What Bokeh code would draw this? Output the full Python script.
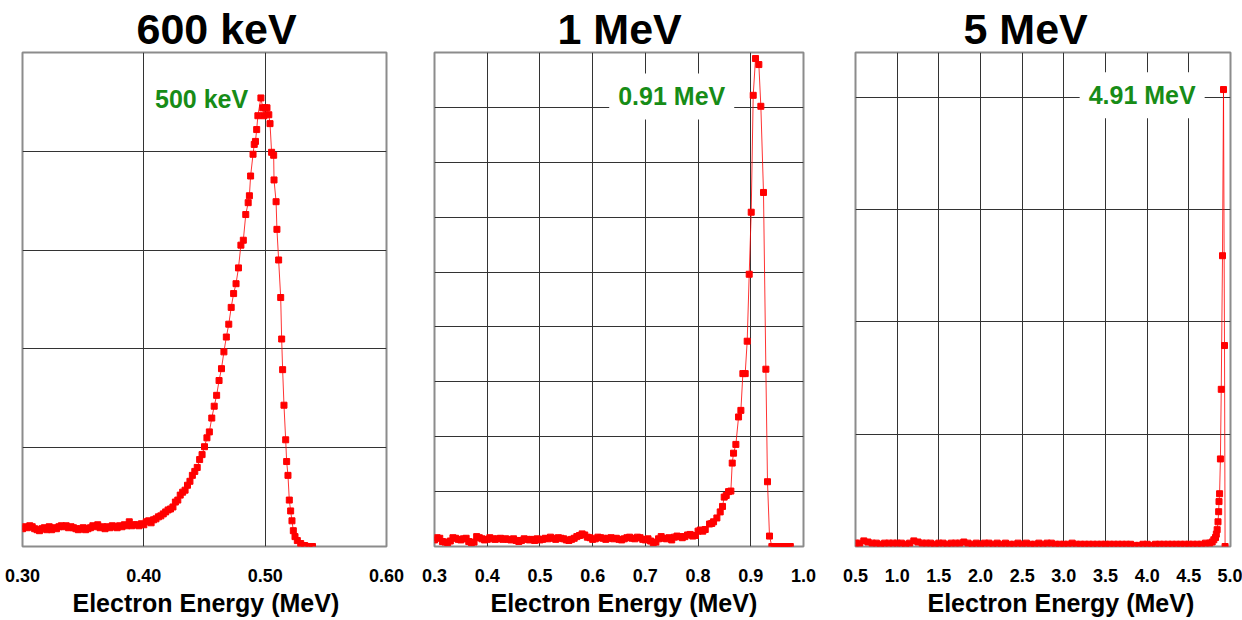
from bokeh.plotting import figure
from bokeh.models import FixedTicker, Label, Range1d, PrintfTickFormatter, Title
from bokeh.layouts import row
from bokeh.embed import file_html
from bokeh.resources import INLINE

FONT = "Liberation Sans"
RED = "#ff0000"
GREEN = "#178c17"

titles = ["600 keV", "1 MeV", "5 MeV"]
peak_labels = ["500 keV", "0.91 MeV", "4.91 MeV"]
x_label = "Electron Energy (MeV)"

x1_ticks = [0.30, 0.40, 0.50, 0.60]
x2_ticks = [0.3, 0.4, 0.5, 0.6, 0.7, 0.8, 0.9, 1.0]
x3_ticks = [0.5, 1.0, 1.5, 2.0, 2.5, 3.0, 3.5, 4.0, 4.5, 5.0]

# ---------------- 600 keV spectrum ----------------
e1 = [0.300, 0.302, 0.304, 0.306, 0.308, 0.310, 0.312, 0.314, 0.316, 0.318,
      0.320, 0.322, 0.324, 0.326, 0.328, 0.330, 0.332, 0.334, 0.336, 0.338,
      0.340, 0.342, 0.344, 0.346, 0.348, 0.350, 0.352, 0.354, 0.356, 0.358,
      0.360, 0.362, 0.364, 0.366, 0.368, 0.370, 0.372, 0.374, 0.376, 0.378,
      0.380, 0.382, 0.384, 0.386, 0.388, 0.390, 0.392, 0.394, 0.396, 0.398,
      0.400, 0.402, 0.404, 0.406, 0.408, 0.410, 0.412, 0.414, 0.416, 0.418,
      0.420, 0.422, 0.424, 0.426, 0.428, 0.430, 0.432, 0.434, 0.436, 0.438,
      0.440, 0.442, 0.444, 0.446, 0.448, 0.450, 0.452, 0.454, 0.456, 0.458,
      0.460, 0.462, 0.464, 0.466, 0.468, 0.470, 0.472, 0.474, 0.476, 0.478,
      0.480, 0.482, 0.484, 0.486, 0.487, 0.488, 0.490, 0.491, 0.492, 0.493,
      0.494, 0.4965, 0.498, 0.499, 0.500, 0.5015, 0.503, 0.504, 0.5053, 0.507,
      0.5073, 0.509, 0.5097, 0.5111, 0.5128, 0.5136, 0.5144, 0.5155, 0.5169, 0.5177,
      0.5188, 0.5199, 0.5210, 0.5221, 0.5232, 0.5246, 0.5265, 0.5293, 0.5326, 0.5362,
      0.5390]
c1 = [0.18, 0.20, 0.19, 0.21, 0.20, 0.18, 0.17, 0.16, 0.18, 0.19,
      0.17, 0.20, 0.17, 0.19, 0.18, 0.20, 0.21, 0.20, 0.21, 0.19,
      0.20, 0.19, 0.18, 0.17, 0.18, 0.19, 0.17, 0.18, 0.19, 0.21,
      0.20, 0.22, 0.19, 0.20, 0.18, 0.20, 0.19, 0.21, 0.20, 0.19,
      0.21, 0.20, 0.22, 0.21, 0.25, 0.21, 0.22, 0.22, 0.21, 0.23,
      0.22, 0.25, 0.26, 0.24, 0.27, 0.28, 0.30, 0.31, 0.33, 0.35,
      0.37, 0.38, 0.40, 0.45, 0.47, 0.52, 0.55, 0.57, 0.62, 0.66,
      0.72, 0.76, 0.80, 0.88, 0.93, 1.01, 1.10, 1.16, 1.30, 1.42,
      1.53, 1.68, 1.80, 1.97, 2.12, 2.25, 2.42, 2.56, 2.66, 2.82,
      3.05, 3.10, 3.36, 3.48, 3.55, 3.75, 3.97, 4.07, 4.10, 4.22,
      4.36, 4.54, 4.44, 4.36, 4.44, 4.44, 4.37, 4.28, 3.99, 3.96,
      3.71, 3.49, 3.21, 2.90, 2.52, 2.10, 1.79, 1.43, 1.08, 0.86,
      0.72, 0.47, 0.36, 0.26, 0.16, 0.10, 0.06, 0.03, 0.01, 0.00,
      0.00]

# ---------------- 1 MeV spectrum ----------------
e2 = [0.300, 0.305, 0.310, 0.315, 0.320, 0.325, 0.330, 0.335, 0.340, 0.345,
      0.350, 0.355, 0.360, 0.365, 0.370, 0.375, 0.380, 0.385, 0.390, 0.395,
      0.400, 0.405, 0.410, 0.415, 0.420, 0.425, 0.430, 0.435, 0.440, 0.445,
      0.450, 0.455, 0.460, 0.465, 0.470, 0.475, 0.480, 0.485, 0.490, 0.495,
      0.500, 0.505, 0.510, 0.515, 0.520, 0.525, 0.530, 0.535, 0.540, 0.545,
      0.550, 0.555, 0.560, 0.565, 0.570, 0.575, 0.580, 0.585, 0.590, 0.595,
      0.600, 0.605, 0.610, 0.615, 0.620, 0.625, 0.630, 0.635, 0.640, 0.645,
      0.650, 0.655, 0.660, 0.665, 0.670, 0.675, 0.680, 0.685, 0.690, 0.695,
      0.700, 0.705, 0.710, 0.715, 0.720, 0.725, 0.730, 0.735, 0.740, 0.745,
      0.750, 0.755, 0.760, 0.765, 0.770, 0.775, 0.780, 0.785, 0.790, 0.795,
      0.800, 0.804, 0.809, 0.8136, 0.8218, 0.8260, 0.8294, 0.8357, 0.842, 0.8464,
      0.8496, 0.8534, 0.8578, 0.8622, 0.8648, 0.8673, 0.8717, 0.8768, 0.8812, 0.8850,
      0.8894, 0.8932, 0.8970, 0.9008, 0.9046, 0.9090, 0.9153, 0.9191, 0.9241, 0.9286,
      0.9317, 0.9355, 0.9400, 0.9440, 0.9480, 0.9520, 0.9560, 0.9600, 0.9640, 0.9680,
      0.9720, 0.9750]
c2 = [0.12, 0.16, 0.15, 0.09, 0.08, 0.07, 0.10, 0.16, 0.15, 0.13,
      0.12, 0.14, 0.15, 0.09, 0.07, 0.08, 0.18, 0.16, 0.14, 0.12,
      0.13, 0.16, 0.14, 0.13, 0.14, 0.15, 0.13, 0.14, 0.13, 0.12,
      0.14, 0.11, 0.09, 0.11, 0.14, 0.13, 0.12, 0.13, 0.11, 0.14,
      0.12, 0.13, 0.15, 0.14, 0.17, 0.15, 0.13, 0.16, 0.15, 0.14,
      0.12, 0.11, 0.13, 0.15, 0.18, 0.20, 0.23, 0.21, 0.17, 0.16,
      0.13, 0.14, 0.17, 0.16, 0.15, 0.13, 0.15, 0.16, 0.14, 0.15,
      0.13, 0.12, 0.14, 0.16, 0.17, 0.15, 0.14, 0.17, 0.16, 0.13,
      0.12, 0.14, 0.10, 0.07, 0.08, 0.14, 0.18, 0.15, 0.14, 0.16,
      0.12, 0.17, 0.19, 0.18, 0.16, 0.18, 0.21, 0.22, 0.19, 0.20,
      0.28, 0.30, 0.28, 0.31, 0.41, 0.42, 0.45, 0.52, 0.63, 0.73,
      0.90, 0.93, 1.00, 1.01, 1.52, 1.70, 1.86, 2.36, 2.48, 3.15,
      3.15, 3.74, 4.96, 6.09, 8.22, 8.89, 8.78, 8.02, 6.45, 3.23,
      1.18, 0.19, 0.00, 0.00, 0.00, 0.00, 0.00, 0.00, 0.00, 0.00,
      0.00, 0.00]

# ---------------- 5 MeV spectrum ----------------
e3 = [0.50, 0.55, 0.60, 0.65, 0.70, 0.75, 0.80, 0.85, 0.90, 0.95,
      1.00, 1.05, 1.10, 1.15, 1.20, 1.25, 1.30, 1.35, 1.40, 1.45,
      1.50, 1.55, 1.60, 1.65, 1.70, 1.75, 1.80, 1.85, 1.90, 1.95,
      2.00, 2.05, 2.10, 2.15, 2.20, 2.25, 2.30, 2.35, 2.40, 2.45,
      2.50, 2.55, 2.60, 2.65, 2.70, 2.75, 2.80, 2.85, 2.90, 2.95,
      3.00, 3.05, 3.10, 3.15, 3.20, 3.25, 3.30, 3.35, 3.40, 3.45,
      3.50, 3.55, 3.60, 3.65, 3.70, 3.75, 3.80, 3.85, 3.90, 3.95,
      4.00, 4.05, 4.10, 4.15, 4.20, 4.25, 4.30, 4.35, 4.40, 4.45,
      4.50, 4.55, 4.60, 4.65, 4.70, 4.75, 4.78, 4.80, 4.82, 4.83,
      4.84, 4.85, 4.858, 4.862, 4.869, 4.879, 4.889, 4.904, 4.916, 4.928,
      4.935]
c3 = [0.03, 0.03, 0.05, 0.04, 0.03, 0.03, 0.02, 0.03, 0.03, 0.03,
      0.03, 0.03, 0.02, 0.03, 0.05, 0.04, 0.03, 0.03, 0.03, 0.02,
      0.03, 0.03, 0.02, 0.03, 0.03, 0.03, 0.04, 0.03, 0.02, 0.03,
      0.02, 0.03, 0.03, 0.02, 0.03, 0.02, 0.03, 0.02, 0.02, 0.03,
      0.02, 0.03, 0.02, 0.02, 0.03, 0.02, 0.03, 0.03, 0.02, 0.02,
      0.02, 0.02, 0.03, 0.02, 0.02, 0.02, 0.02, 0.02, 0.02, 0.02,
      0.02, 0.02, 0.02, 0.02, 0.02, 0.02, 0.02, 0.01, 0.01, 0.02,
      0.02, 0.01, 0.02, 0.02, 0.02, 0.02, 0.02, 0.02, 0.02, 0.02,
      0.02, 0.02, 0.02, 0.02, 0.03, 0.03, 0.04, 0.06, 0.08, 0.11,
      0.15, 0.22, 0.31, 0.40, 0.47, 0.78, 1.40, 2.59, 4.07, 1.79,
      0.00]

panels = [
    dict(title=titles[0], e=e1, c=c1, xr=(0.30, 0.60), yr=(0.0, 5.0),
         ticks=x1_ticks, fmt="%.2f", ygrid=[1, 2, 3, 4],
         width=410, bl=22, br=24, bt=49, bb=74, title_off=114, xl_off=50,
         lab=peak_labels[0], lab_x=0.4476, lab_y=4.53, lab_bg=False),
    dict(title=titles[1], e=e2, c=c2, xr=(0.3, 1.0), yr=(0.0, 9.0),
         ticks=x2_ticks, fmt="%.1f", ygrid=[1, 2, 3, 4, 5, 6, 7, 8],
         width=420, bl=24, br=27, bt=52, bb=73, title_off=123, xl_off=56,
         lab=peak_labels[1], lab_x=0.750, lab_y=8.2, lab_bg=True),
    dict(title=titles[2], e=e3, c=c3, xr=(0.5, 5.0), yr=(0.0, 4.4),
         ticks=x3_ticks, fmt="%.1f", ygrid=[1, 2, 3, 4],
         width=412, bl=25, br=12, bt=52, bb=74, title_off=108, xl_off=72,
         lab=peak_labels[2], lab_x=3.94, lab_y=4.02, lab_bg=True),
]

figs = []
for cfg in panels:
    p = figure(width=cfg["width"], height=620,
               x_range=Range1d(*cfg["xr"]), y_range=Range1d(*cfg["yr"]),
               output_backend="svg", toolbar_location=None,
               min_border_left=cfg["bl"], min_border_right=cfg["br"],
               min_border_top=cfg["bt"], min_border_bottom=cfg["bb"])
    p.background_fill_color = "white"
    p.border_fill_color = "white"
    p.outline_line_color = "#8c8c8c"
    p.outline_line_width = 2

    p.title.text = cfg["title"]
    p.title.align = "left"
    p.title.offset = cfg["title_off"]
    p.title.standoff = 0
    p.title.text_font = FONT
    p.title.text_font_style = "bold"
    p.title.text_font_size = "43px"
    p.title.text_color = "black"

    p.yaxis.visible = False
    xa = p.xaxis[0]
    xa.ticker = FixedTicker(ticks=cfg["ticks"])
    xa.formatter = PrintfTickFormatter(format=cfg["fmt"])
    xa.axis_line_color = None
    xa.major_tick_line_color = None
    xa.minor_tick_line_color = None
    xa.major_tick_out = 0
    xa.major_tick_in = 0
    xa.major_label_standoff = 22
    xa.major_label_text_font = FONT
    xa.major_label_text_font_style = "bold"
    xa.major_label_text_font_size = "18px"
    xa.major_label_text_color = "black"

    xt = Title(text=x_label, align="left", offset=cfg["xl_off"], standoff=5,
               text_font=FONT, text_font_style="bold", text_font_size="25px",
               text_color="black")
    p.add_layout(xt, "below")

    p.xgrid.ticker = FixedTicker(ticks=cfg["ticks"][1:-1])
    p.xgrid.grid_line_color = "#333333"
    p.xgrid.grid_line_width = 1
    p.xgrid.grid_line_alpha = 1
    p.ygrid.ticker = FixedTicker(ticks=cfg["ygrid"])
    p.ygrid.grid_line_color = "#333333"
    p.ygrid.grid_line_width = 1
    p.ygrid.grid_line_alpha = 1

    p.line(cfg["e"], cfg["c"], line_color=RED, line_width=1, line_alpha=0.8)
    p.scatter(cfg["e"], cfg["c"], marker="square", size=6,
              fill_color=RED, line_color=RED)

    if cfg["lab_bg"]:
        lab = Label(x=cfg["lab_x"], y=cfg["lab_y"], text=cfg["lab"],
                    text_align="center", text_baseline="middle",
                    text_font=FONT, text_font_style="bold",
                    text_font_size="25px", text_color=GREEN,
                    background_fill_color="white", padding=9)
    else:
        lab = Label(x=cfg["lab_x"], y=cfg["lab_y"], text=cfg["lab"],
                    text_align="center", text_baseline="middle",
                    text_font=FONT, text_font_style="bold",
                    text_font_size="25px", text_color=GREEN)
    p.add_layout(lab)
    figs.append(p)

layout = row(*figs)
open("out.html", "w").write(file_html(layout, INLINE))
